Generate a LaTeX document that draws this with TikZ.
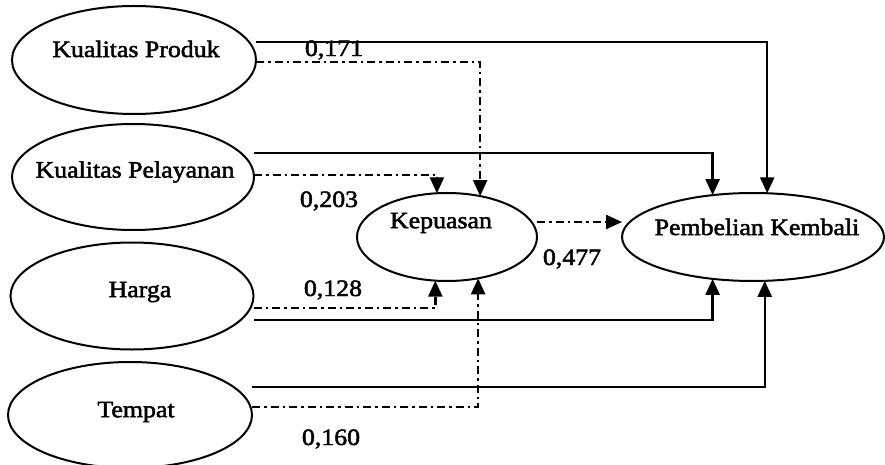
\documentclass[tikz,border=0pt]{standalone}
\usepackage{fontspec}
\setmainfont{Liberation Serif}[FakeStretch=1.1,FakeBold=2]
\usetikzlibrary{shapes.geometric,arrows.meta}
\begin{document}
\begin{tikzpicture}[x=1pt,y=-1pt,
  latent/.style={draw,ellipse,line width=2pt,inner sep=0pt,outer sep=0pt},
  txt/.style={inner sep=0pt,font=\fontsize{23.5}{27}\selectfont},
  num/.style={inner sep=0pt,font=\fontsize{23.5}{27}\selectfont},
  direct/.style={line width=2.4pt,-{Triangle[length=16pt,width=14pt]}},
  indirect/.style={line width=2.4pt,dash pattern=on 8pt off 4pt on 2.5pt off 4pt,-{Triangle[length=16pt,width=14pt]}}
]
\useasboundingbox (0,0) rectangle (885,465);
% ellipses
\node[latent,minimum width=244pt,minimum height=108pt] (kp) at (134,60) {};
\node[latent,minimum width=242pt,minimum height=106pt] (kpel) at (133,177) {};
\node[latent,minimum width=243pt,minimum height=107pt] (harga) at (132,296) {};
\node[latent,minimum width=244pt,minimum height=106pt] (tempat) at (130,415) {};
\node[latent,minimum width=180pt,minimum height=88pt] (kep) at (447,237) {};
\node[latent,minimum width=262pt,minimum height=88pt] (pk) at (753,237) {};
% texts
\node[txt] (tkp) at (136,49) {Kualitas Produk};
\node[txt] (tkpel) at (135,172) {Kualitas Pelayanan};
\node[txt] (tharga) at (140,292) {Harga};
\node[txt] (ttempat) at (136,412) {Tempat};
\node[txt] (tkep) at (441,223) {Kepuasan};
\node[txt] (tpk) at (757,227) {Pembelian Kembali};
% connectors
\draw[direct] ([yshift=18pt]kp.east) -| (pk.72);
\draw[indirect] ([yshift=-2pt]kp.east) -| (kep.51);
\draw[direct] ([yshift=24pt]kpel.east) -| (pk.134);
\draw[indirect] ([yshift=2pt]kpel.east) -| (kep.103);
\draw[indirect] ([yshift=15pt]kep.east) -- ([yshift=15pt]pk.west);
\draw[indirect] ([yshift=-12pt]harga.east) -| (kep.-105);
\draw[direct] ([yshift=-24pt]harga.east) -| (pk.-134);
\draw[direct] ([yshift=28pt]tempat.east) -| (pk.-75);
\draw[indirect] ([yshift=8pt]tempat.east) -| (kep.-53);
% numbers
\node[num] (n1) at (334,50) {0,171};
\node[num] (n2) at (329,201) {0,203};
\node[num] (n3) at (572,259) {0,477};
\node[num] (n4) at (333,290) {0,128};
\node[num] (n5) at (331,439) {0,160};
\end{tikzpicture}
\end{document}
